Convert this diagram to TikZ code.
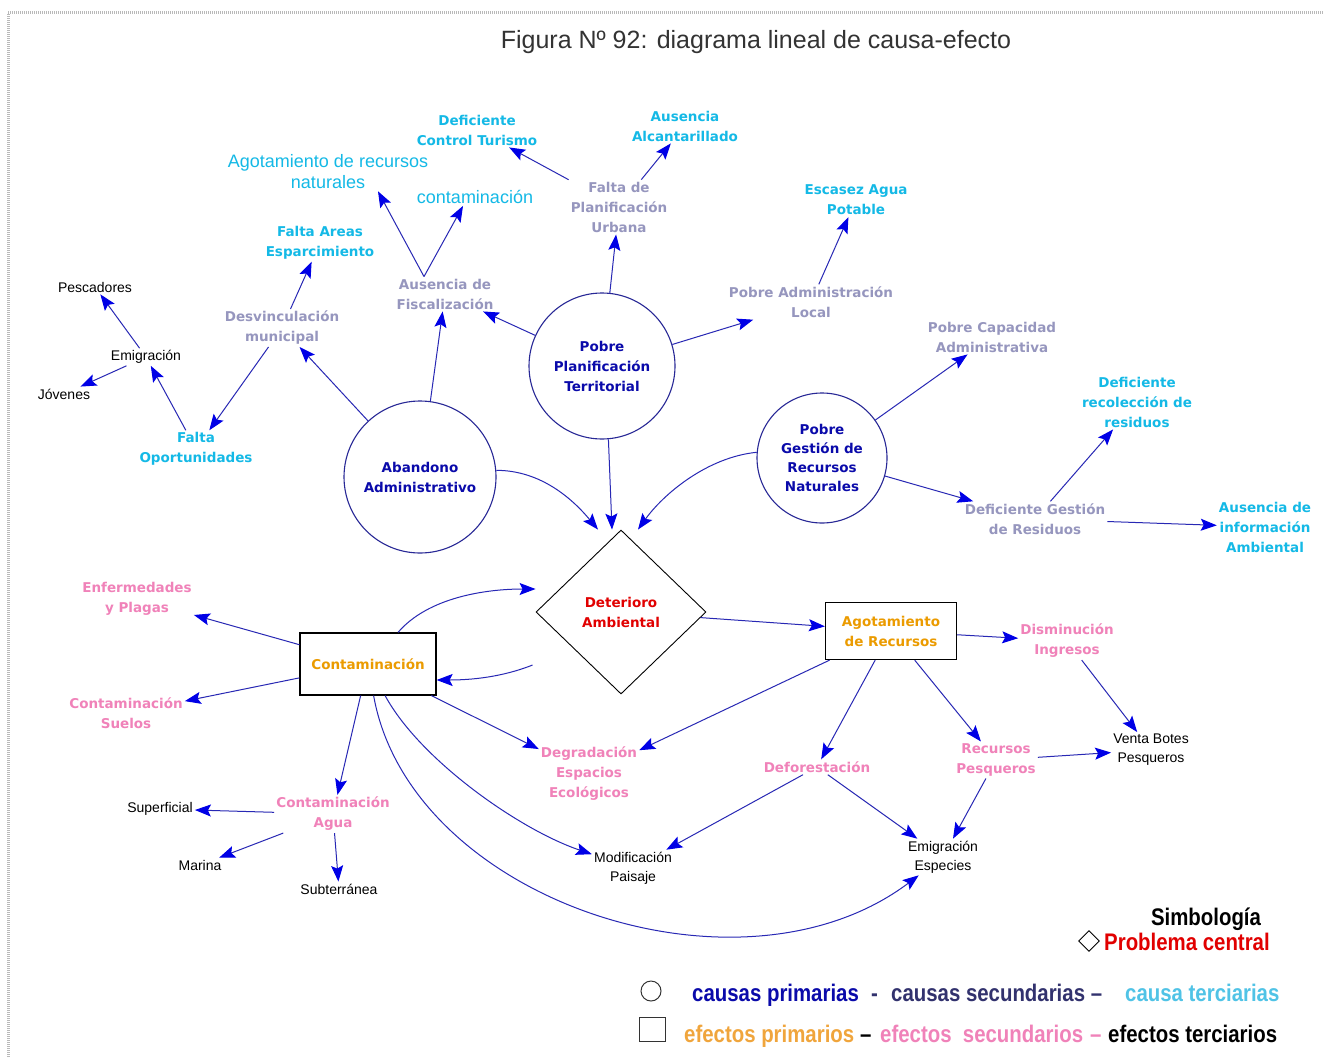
\documentclass[tikz,border=0pt]{standalone}
\usepackage{fontspec}
\setmainfont{Liberation Sans}
\newfontfamily\narrowfam{Liberation Sans}[FakeStretch=0.85]
\newfontfamily\lblfam{DejaVu Sans}
\usetikzlibrary{arrows.meta,shapes.geometric}
\definecolor{circblue}{RGB}{40,40,150}
\definecolor{navyT}{RGB}{10,10,170}
\definecolor{greyT}{RGB}{150,150,190}
\definecolor{cyanT}{RGB}{20,185,230}
\definecolor{cyanL}{RGB}{80,195,230}
\definecolor{pinkT}{RGB}{240,130,185}
\definecolor{orangeT}{RGB}{235,155,0}
\definecolor{orangeL}{RGB}{240,165,60}
\definecolor{redT}{RGB}{225,0,0}
\definecolor{slateT}{RGB}{50,50,110}
\definecolor{lineblue}{RGB}{40,40,180}
\definecolor{tipblue}{RGB}{0,0,230}
\newcommand\lblfont{\lblfam\bfseries\fontsize{13.5}{20}\selectfont}
\newcommand\smlfont{\fontsize{14}{19}\selectfont}
\newcommand\bigfont{\fontsize{18}{21}\selectfont}
\newcommand\legfont{\narrowfam\bfseries\fontsize{24}{28}\selectfont}
\tikzset{
  every node/.style={inner sep=2pt},
  c1/.style={circle, draw=circblue, line width=1.1pt, text=navyT, font=\lblfont, align=center, inner sep=0pt},
  c2/.style={text=greyT, font=\lblfont, align=center},
  c3/.style={text=cyanT, font=\lblfont, align=center},
  c3n/.style={text=cyanT, font=\bigfont, align=center},
  e1/.style={draw=black, line width=1.2pt, text=orangeT, font=\lblfont, align=center, inner sep=0pt},
  e2/.style={text=pinkT, font=\lblfont, align=center},
  e3/.style={text=black, font=\smlfont, align=center},
  arr/.style={draw=lineblue, line width=1pt, -{Stealth[length=16pt,width=12pt,inset=3pt,color=tipblue]}},
  leg/.style={font=\legfont, anchor=base west, inner sep=0pt},
}
\begin{document}
\begin{tikzpicture}[x=1pt,y=-1pt]
\useasboundingbox (0,0) rectangle (1324,1057);
\fill[white] (0,0) rectangle (1324,1057);
\draw[gray!55, line width=3pt, dash pattern=on 1pt off 1pt] (8,1057) -- (8,13) -- (1324,13);

% title
\node[font=\fontsize{25}{30}\selectfont, text=black!80] (title) at (756,42) {Figura Nº 92: diagrama lineal de causa-efecto};

% primary causes
\node[c1, minimum size=146pt] (ppt) at (602,366) {Pobre\\Planificación\\Territorial};
\node[c1, minimum size=152pt] (aa) at (420,477) {Abandono\\Administrativo};
\node[c1, minimum size=130pt, font=\lblfam\bfseries\fontsize{13.5}{19}\selectfont] (pgrn) at (822,458) {Pobre\\Gestión de\\Recursos\\Naturales};

% central problem
\node[diamond, draw=black, line width=0.9pt, minimum width=170pt, minimum height=164pt, inner sep=0pt, text=redT, font=\lblfont, align=center] (det) at (621,612) {Deterioro\\Ambiental};

% primary effects
\node[e1, minimum width=136pt, minimum height=62pt] (cont) at (368,664) {Contaminación};
\node[e1, minimum width=131pt, minimum height=57pt] (agot) at (891,631) {Agotamiento\\de Recursos};

% secondary causes
\node[c2] (af) at (445,294) {Ausencia de\\Fiscalización};
\node[c2] (dm) at (282,328) {Desvinculación\\municipal};
\node[c2] (fpu) at (619,207) {Falta de\\Planificación\\Urbana};
\node[c2] (pal) at (811,302) {Pobre Administración\\Local};
\node[c2] (pca) at (992,337) {Pobre Capacidad\\Administrativa};
\node[c2] (dgr) at (1035,519) {Deficiente Gestión\\de Residuos};

% tertiary causes
\node[c3] (dct) at (477,130) {Deficiente\\Control Turismo};
\node[c3] (aal) at (685,126) {Ausencia\\Alcantarillado};
\node[c3n] (arn) at (328,172) {Agotamiento de recursos\\naturales};
\node[c3n] (cnt) at (475,197) {contaminación};
\node[c3] (fae) at (320,243) {Falta Areas\\Esparcimiento};
\node[c3] (fo) at (196,449) {Falta\\Oportunidades};
\node[c3] (eap) at (856,200) {Escasez Agua\\Potable};
\node[c3] (drr) at (1137,402) {Deficiente\\recolección de\\residuos};
\node[c3] (aia) at (1265,527) {Ausencia de\\información\\Ambiental};

% black labels
\node[e3] (pes) at (95,287) {Pescadores};
\node[e3] (emi) at (146,357) {Emigración};
\node[e3] (jov) at (64,394) {Jóvenes};
\node[e3] (sup) at (160,809) {Superficial};
\node[e3] (mar) at (200,865) {Marina};
\node[e3] (sub) at (339,889) {Subterránea};
\node[e3] (mp) at (633,868) {Modificación\\Paisaje};
\node[e3] (ee) at (943,857) {Emigración\\Especies};
\node[e3] (vbp) at (1151,750) {Venta Botes\\Pesqueros};

% secondary effects
\node[e2] (eyp) at (137,599) {Enfermedades\\y Plagas};
\node[e2] (cs) at (126,713) {Contaminación\\Suelos};
\node[e2] (ca) at (333,814) {Contaminación\\Agua};
\node[e2] (dee) at (589,774) {Degradación\\Espacios\\Ecológicos};
\node[e2] (def) at (817,767) {Deforestación};
\node[e2] (rp) at (996,760) {Recursos\\Pesqueros};
\node[e2] (di) at (1067,641) {Disminución\\Ingresos};

% connectors: causes
\draw[arr] (ppt) -- (fpu);
\draw[arr] (ppt) -- (af);
\draw[arr] (ppt) -- (pal);
\draw[arr] (ppt.275) -- ([xshift=-9pt]det.north);
\draw[arr] (fpu) -- (dct);
\draw[arr] (fpu) -- (aal);
\draw[arr] ([xshift=-21pt]af.north) -- ([xshift=50pt]arn.south);
\draw[arr] ([xshift=-21pt]af.north) -- ([xshift=-12pt]cnt.south);
\draw[arr] (aa) -- (af);
\draw[arr] (aa) -- (dm);
\draw[arr] (aa.5) .. controls +(45,0) and +(-25,-30) .. ([xshift=-23pt]det.north);
\draw[arr] (dm) -- (fae);
\draw[arr] (dm) -- (fo);
\draw[arr] (fo) -- (emi);
\draw[arr] (emi) -- (pes);
\draw[arr] (emi) -- (jov);
\draw[arr] (pal) -- (eap);
\draw[arr] (pgrn) -- (pca);
\draw[arr] (pgrn) -- (dgr);
\draw[arr] (pgrn.175) .. controls +(-50,5) and +(25,-35) .. ([xshift=17pt]det.north);
\draw[arr] (dgr) -- (drr);
\draw[arr] (dgr) -- (aia);

% connectors: effects
\draw[arr] (det) -- (agot);
\draw[arr] ([xshift=30pt]cont.north) .. controls +(30,-35) and +(-50,0) .. ([yshift=23pt]det.west);
\draw[arr] ([xshift=-3pt,yshift=-53pt]det.west) .. controls +(-30,12) and +(35,0) .. ([yshift=-16pt]cont.east);
\draw[arr] (cont) -- (eyp);
\draw[arr] (cont) -- (cs);
\draw[arr] (cont) -- (ca);
\draw[arr] (cont) -- (dee);
\draw[arr] (cont) .. controls (420,760) and (520,830) .. (mp);
\draw[arr] (cont) .. controls (410,900) and (740,1010) .. (ee);
\draw[arr] (ca) -- (sup);
\draw[arr] (ca) -- (mar);
\draw[arr] (ca) -- (sub);
\draw[arr] (agot) -- (di);
\draw[arr] (agot) -- (dee);
\draw[arr] (agot) -- (def);
\draw[arr] (agot) -- (rp);
\draw[arr] (di) -- (vbp);
\draw[arr] (rp) -- (vbp);
\draw[arr] (rp) -- (ee);
\draw[arr] (def) -- (mp);
\draw[arr] (def) -- (ee);

% legend
\node[font=\legfont, anchor=base] (simb) at (1206,925) {Simbología};
\node[diamond, draw=black, line width=0.9pt, minimum size=21pt, inner sep=0pt] (legd) at (1089,941) {};
\node[leg, text=redT] (legpc) at (1104,950) {Problema central};
\node[circle, draw=black!80, line width=1pt, minimum size=20pt, inner sep=0pt] (legc) at (651,991) {};
\node[leg, text=navyT] (l1) at (692,1001) {causas primarias};
\node[leg, text=slateT] (l2) at (871,1001) {-};
\node[leg, text=slateT] (l3) at (891,1001) {causas secundarias –};
\node[leg, text=cyanL] (l4) at (1125,1001) {causa terciarias};
\node[draw=black!80, line width=1pt, minimum width=26pt, minimum height=24pt, inner sep=0pt] (legs) at (652,1029) {};
\node[leg, text=orangeL] (m1) at (684,1042) {efectos primarios};
\node[leg, text=black] (m2) at (860,1042) {–};
\node[leg, text=pinkT] (m3) at (880,1042) {efectos\ \ secundarios};
\node[leg, text=pinkT] (m4) at (1090,1042) {–};
\node[leg, text=black] (m5) at (1108,1042) {efectos terciarios};
\end{tikzpicture}
\end{document}
